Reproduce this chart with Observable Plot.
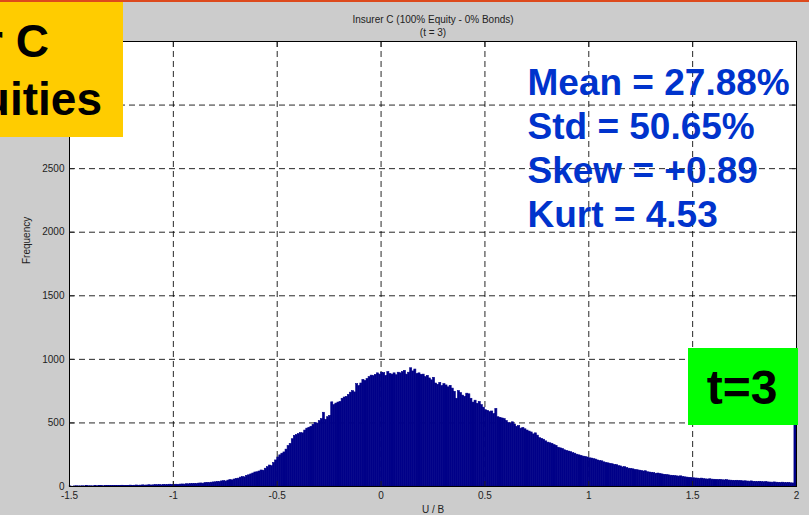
<!DOCTYPE html>
<html>
<head>
<meta charset="utf-8">
<script src="https://cdn.jsdelivr.net/npm/d3@7"></script>
<script src="https://cdn.jsdelivr.net/npm/@observablehq/plot@0.6"></script>
<style>
  html, body { margin: 0; padding: 0; background: #cccccc; width: 809px; height: 515px; overflow: hidden; }
  #wrap { position: relative; width: 809px; height: 515px; }
  #topline { position: absolute; left: 0; top: 0; width: 809px; height: 2px; background: #dd4a1c; }
  #chart { position: absolute; left: 0; top: 0; }
  #overlay { position: absolute; left: 0; top: 0; pointer-events: none; }
</style>
</head>
<body>
<div id="wrap">
  <div id="chart"></div>
  <div id="topline"></div>
  <svg id="overlay" width="809" height="515" font-family="'Liberation Sans', Arial, Helvetica, sans-serif">
    <rect x="0" y="2" width="123" height="135" fill="#ffcc00"></rect>
    <text x="49" y="57" text-anchor="end" font-size="46" font-weight="bold" fill="#000">Insurer C</text>
    <text x="102" y="115" text-anchor="end" font-size="46" font-weight="bold" fill="#000">Equities</text>
    <rect x="688" y="348" width="110" height="77" fill="#00ff00"></rect>
    <text x="742" y="404" text-anchor="middle" font-size="48" font-weight="bold" fill="#000">t=3</text>
  </svg>
</div>
<script>
const title = "Insurer C (100% Equity - 0% Bonds)\n(t = 3)";
const xLabel = "U / B";
const yLabel = "Frequency";
const statsLines = ["Mean = 27.88%", "Std = 50.65%", "Skew = +0.89", "Kurt = 4.53"];

const binStart = -1.5;
const binWidth = 0.01;
const counts = [
  1,0,1,2,1,1,2,1,3,2,
  2,1,3,2,4,3,2,3,4,3,
  3,4,5,3,4,6,4,5,5,7,
  5,6,8,6,7,9,7,8,10,8,
  9,11,10,12,9,13,11,12,14,13,
  12,14,13,15,16,15,18,17,19,20,
  21,20,23,24,22,26,28,27,30,32,
  33,36,35,40,42,39,46,50,48,55,
  60,62,70,74,72,84,88,95,102,110,
  112,118,126,124,140,152,165,160,185,205,
  228,245,258,268,290,318,335,372,398,405,
  412,420,418,440,455,462,470,485,500,495,
  515,530,580,525,545,555,662,640,652,660,
  665,690,700,705,720,738,750,740,805,790,
  810,838,830,845,860,872,868,878,890,880,
  895,892,870,900,885,880,890,875,895,890,
  900,910,880,895,930,905,920,885,890,878,
  880,860,870,850,835,855,810,800,815,790,
  805,795,780,792,770,745,690,750,735,715,
  705,730,725,690,660,675,650,665,640,620,
  600,595,585,590,570,610,545,540,535,530,
  515,500,495,505,488,470,475,455,460,450,
  440,432,425,410,418,400,380,375,368,355,
  345,340,335,325,320,305,300,295,285,280,
  275,270,262,258,250,245,240,235,232,228,
  222,220,215,212,205,200,198,190,185,182,
  178,175,170,168,160,158,150,152,145,140,
  138,135,130,128,125,122,118,120,112,110,
  108,105,100,102,98,95,92,90,88,85,
  84,82,80,78,80,75,72,70,68,66,
  65,63,62,60,62,58,56,55,57,54,
  53,52,50,52,49,48,50,47,46,45,
  44,45,43,42,40,41,39,38,40,37,
  36,35,37,34,33,35,32,31,30,32,
  30,29,28,30,27,26,28,25,24,600
];

const xDomain = [-1.5, 2];
const yDomain = [0, 3500];
const xTicks = [-1.5, -1, -0.5, 0, 0.5, 1, 1.5, 2];
const yTicks = [0, 500, 1000, 1500, 2000, 2500, 3000];
const xGrid = [-1, -0.5, 0, 0.5, 1, 1.5];
const yGrid = [500, 1000, 1500, 2000, 2500, 3000];

const bins = counts.map((c, i) => ({
  x1: binStart + i * binWidth,
  x2: binStart + (i + 1) * binWidth,
  y: c
}));

const font = "'Liberation Sans', Arial, Helvetica, sans-serif";
const empty = () => "";

const chart = Plot.plot({
  width: 809,
  height: 515,
  marginLeft: 69,
  marginRight: 13,
  marginTop: 41,
  marginBottom: 29,
  style: { background: "transparent", fontFamily: font, fontSize: "10px", color: "#222" },
  x: { domain: xDomain },
  y: { domain: yDomain },
  marks: [
    Plot.frame({ fill: "white", stroke: null }),
    Plot.gridX(xGrid, { stroke: "#000", strokeOpacity: 0.85, strokeDasharray: "6,4" }),
    Plot.gridY(yGrid, { stroke: "#000", strokeOpacity: 0.85, strokeDasharray: "6,4" }),
    Plot.text([statsLines.join("\n")], {
      frameAnchor: "top-left", textAnchor: "start", lineAnchor: "top",
      dx: 458, dy: 22, fontSize: 37, fontWeight: "bold", fill: "#0033cc", lineHeight: 1.19
    }),
    Plot.rectY(bins, { x1: "x1", x2: "x2", y: "y", fill: "#000088", stroke: "#000088", strokeWidth: 0.6, inset: 0 }),
    Plot.axisX(xTicks, { anchor: "bottom", tickSize: 0, tickPadding: 5, tickFormat: d => String(d), label: null, fontSize: 10 }),
    Plot.axisY(yTicks, { anchor: "left", tickSize: 0, tickPadding: 5, tickFormat: d => String(d), label: null, fontSize: 10 }),
    Plot.axisX(xTicks, { anchor: "bottom", tickSize: -5, tickFormat: empty, label: null }),
    Plot.axisX(xTicks, { anchor: "top", tickSize: -5, tickFormat: empty, label: null }),
    Plot.axisY(yTicks, { anchor: "left", tickSize: -5, tickFormat: empty, label: null }),
    Plot.axisY(yTicks, { anchor: "right", tickSize: -5, tickFormat: empty, label: null }),
    Plot.frame({ stroke: "#000" }),
    Plot.text([title], { frameAnchor: "top", lineAnchor: "top", dy: -28, fontSize: 10, lineHeight: 1.3, fill: "#222" }),
    Plot.text([xLabel], { frameAnchor: "bottom", lineAnchor: "top", dy: 19, fontSize: 10, fill: "#222" }),
    Plot.text([yLabel], { frameAnchor: "left", rotate: -90, dx: -43, fontSize: 10, fill: "#222" })
  ]
});
document.getElementById("chart").appendChild(chart);
</script>
</body>
</html>
